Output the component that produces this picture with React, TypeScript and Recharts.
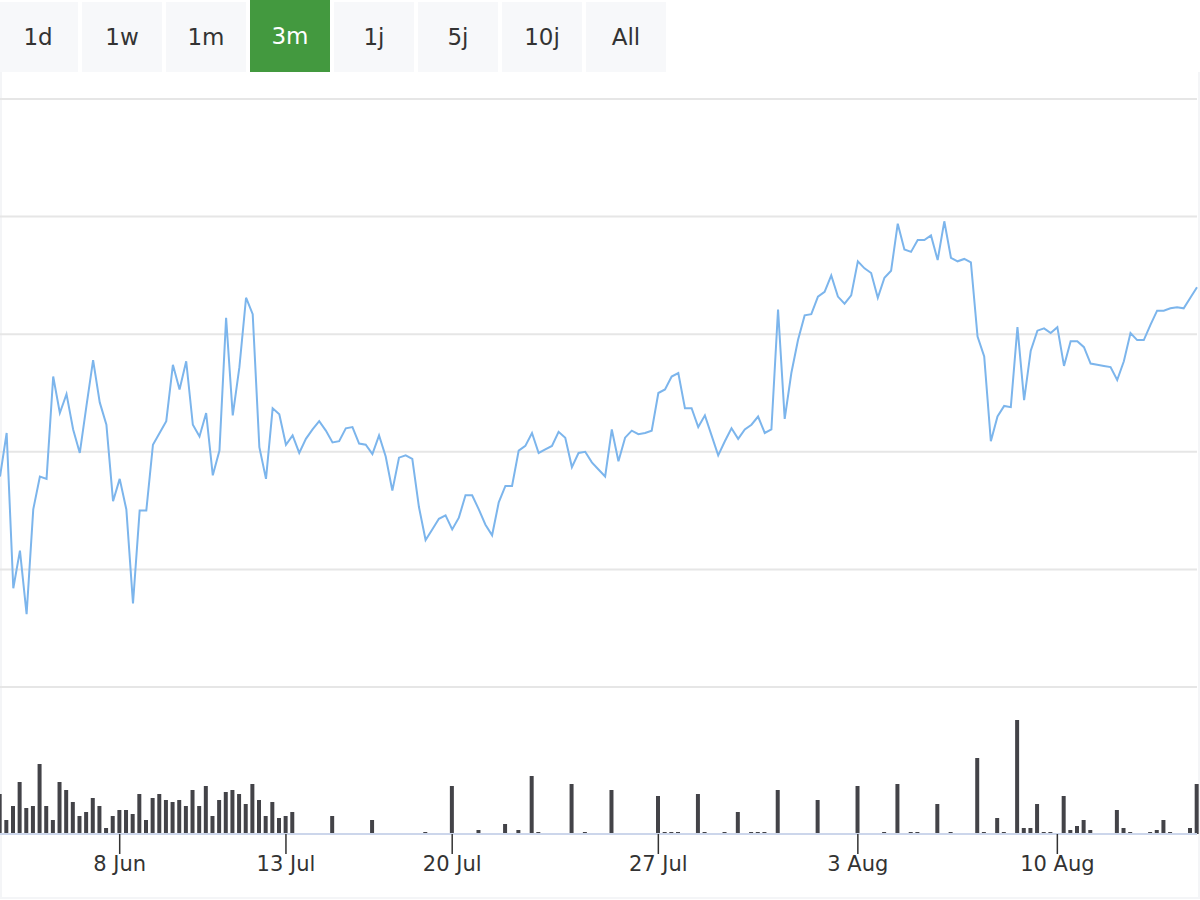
import React from 'react';
import { LineChart, Line, BarChart, Bar, XAxis, YAxis, CartesianGrid } from 'recharts';

// range selector buttons
const rangeButtons = ['1d', '1w', '1m', '3m', '1j', '5j', '10j', 'All'];
const activeRange = '3m';

// closing price per trading point (ordinal axis, index = position)
const prices = [
  117.9, 121.6, 108.4, 111.6, 106.2, 115.1, 117.9, 117.7, 126.4, 123.3,
  124.9, 121.9, 119.9, 123.9, 127.8, 124.2, 122.3, 115.8, 117.7, 115.1,
  107.1, 115.0, 115.0, 120.6, 121.6, 122.6, 127.4, 125.3, 127.7, 122.3,
  121.3, 123.3, 118.0, 120.1, 131.4, 123.1, 127.2, 133.1, 131.7, 120.4,
  117.7, 123.7, 123.2, 120.6, 121.4, 119.9, 121.1, 121.9, 122.6, 121.8,
  120.8, 120.9, 122.0, 122.1, 120.7, 120.6, 119.8, 121.4, 119.6, 116.7,
  119.5, 119.7, 119.4, 115.3, 112.5, 113.4, 114.3, 114.6, 113.4, 114.4,
  116.3, 116.3, 115.1, 113.8, 112.9, 115.7, 117.1, 117.1, 120.1, 120.5,
  121.6, 119.9, 120.2, 120.5, 121.7, 121.2, 118.7, 119.9, 120.0, 119.1,
  118.5, 117.9, 121.9, 119.2, 121.2, 121.8, 121.5, 121.6, 121.8, 125.0,
  125.3, 126.4, 126.7, 123.7, 123.7, 122.1, 123.1, 121.4, 119.7, 120.9,
  122.0, 121.1, 121.9, 122.3, 123.0, 121.6, 121.9, 132.1, 122.8, 126.7,
  129.5, 131.6, 131.7, 133.2, 133.6, 135.0, 133.2, 132.6, 133.3, 136.2,
  135.6, 135.2, 133.1, 134.8, 135.4, 139.4, 137.2, 137.0, 138.0, 138.0,
  138.4, 136.3, 139.6, 136.5, 136.2, 136.4, 136.1, 129.8, 128.1, 120.9,
  123.0, 123.9, 123.8, 130.6, 124.4, 128.6, 130.3, 130.5, 130.1, 130.6,
  127.3, 129.4, 129.4, 128.9, 127.5, 127.4, 127.3, 127.2, 126.1, 127.7,
  130.1, 129.5, 129.5, 130.8, 132.0, 132.0, 132.2, 132.3, 132.2, 133.1,
  134.0,
];

// traded volume per trading point
const volumes = [
  40, 14, 28, 52, 26, 28, 70, 28, 14, 52,
  44, 32, 18, 22, 36, 28, 6, 18, 24, 24,
  20, 40, 14, 36, 40, 34, 32, 34, 28, 44,
  28, 48, 18, 34, 42, 44, 40, 30, 50, 34,
  18, 32, 16, 18, 22, 0, 0, 0, 0, 0,
  18, 0, 0, 0, 0, 0, 14, 0, 0, 0,
  0, 0, 0, 0, 2, 0, 0, 0, 48, 0,
  0, 0, 4, 0, 0, 0, 10, 0, 4, 0,
  58, 2, 0, 0, 0, 0, 50, 0, 2, 0,
  0, 0, 44, 0, 0, 0, 0, 0, 0, 38,
  2, 2, 2, 0, 0, 40, 2, 0, 0, 2,
  0, 22, 0, 2, 2, 2, 0, 44, 0, 0,
  0, 0, 0, 34, 0, 0, 0, 0, 0, 48,
  0, 0, 0, 2, 0, 50, 0, 2, 2, 0,
  0, 30, 0, 2, 0, 0, 0, 76, 2, 0,
  16, 2, 0, 114, 6, 6, 30, 2, 2, 0,
  38, 4, 8, 14, 4, 0, 0, 0, 24, 6,
  2, 0, 0, 2, 4, 14, 2, 0, 0, 6,
  50,
];

// x axis labels and the trading point they sit on
const tickIndex = [18, 43, 68, 99, 129, 159];
const tickLabels = ['8 Jun', '13 Jul', '20 Jul', '27 Jul', '3 Aug', '10 Aug'];

const priceTicks = [100, 110, 120, 130, 140, 150];

const data = prices.map((p, i) => ({ i, price: p, volume: volumes[i] }));
const lastIndex = data.length - 1;

const labelFor = (v: number) => {
  const k = tickIndex.indexOf(v);
  return k >= 0 ? tickLabels[k] : '';
};

const font = '"DejaVu Sans", sans-serif';

export default function App() {
  return (
    <div style={{ position: 'absolute', left: 0, top: 0, width: 1200, height: 900, background: '#fff', fontFamily: font }}>
      {/* frame (no top edge) */}
      <div
        style={{
          position: 'absolute',
          left: 0,
          top: 72,
          width: 1200,
          height: 827,
          borderLeft: '2px solid #f4f5f7',
          borderRight: '2px solid #f4f5f7',
          borderBottom: '2px solid #f4f5f7',
          boxSizing: 'border-box',
        }}
      />

      {/* range buttons */}
      {rangeButtons.map((b, k) => (
        <div
          key={b}
          style={{
            position: 'absolute',
            left: -2 + k * 84,
            top: b === activeRange ? 0 : 2,
            width: 80,
            height: b === activeRange ? 72 : 70,
            background: b === activeRange ? '#43993f' : '#f7f8fa',
            color: b === activeRange ? '#fff' : '#333',
            fontSize: 23,
            display: 'flex',
            alignItems: 'center',
            justifyContent: 'center',
            zIndex: 2,
          }}
        >
          {b}
        </div>
      ))}

      {/* price pane */}
      <div style={{ position: 'absolute', left: 0, top: 0 }}>
        <LineChart width={1200} height={700} data={data} margin={{ top: 99, right: 3, bottom: 13, left: 0 }}>
          <CartesianGrid vertical={false} stroke="#e6e6e6" strokeWidth={2} />
          <XAxis dataKey="i" type="number" domain={[0, lastIndex]} hide />
          <YAxis type="number" domain={[100, 150]} ticks={priceTicks} hide />
          <Line
            type="linear"
            dataKey="price"
            stroke="#7cb5ec"
            strokeWidth={2}
            dot={false}
            isAnimationActive={false}
          />
        </LineChart>
      </div>

      {/* volume pane */}
      <div style={{ position: 'absolute', left: 0, top: 690 }}>
        <BarChart width={1200} height={210} data={data} margin={{ top: 10, right: 3, bottom: 0, left: 0 }}>
          <XAxis
            dataKey="i"
            type="number"
            domain={[0, lastIndex]}
            ticks={tickIndex}
            interval={0}
            tickFormatter={labelFor}
            height={66}
            tickSize={20}
            axisLine={{ stroke: '#ccd6eb', strokeWidth: 2 }}
            tickLine={{ stroke: '#333', strokeWidth: 1.5 }}
            tick={{ fill: '#333', fontSize: 21, fontFamily: font }}
          />
          <YAxis type="number" domain={[0, 134]} hide />
          <Bar dataKey="volume" fill="#434348" barSize={4} isAnimationActive={false} />
        </BarChart>
      </div>
    </div>
  );
}
